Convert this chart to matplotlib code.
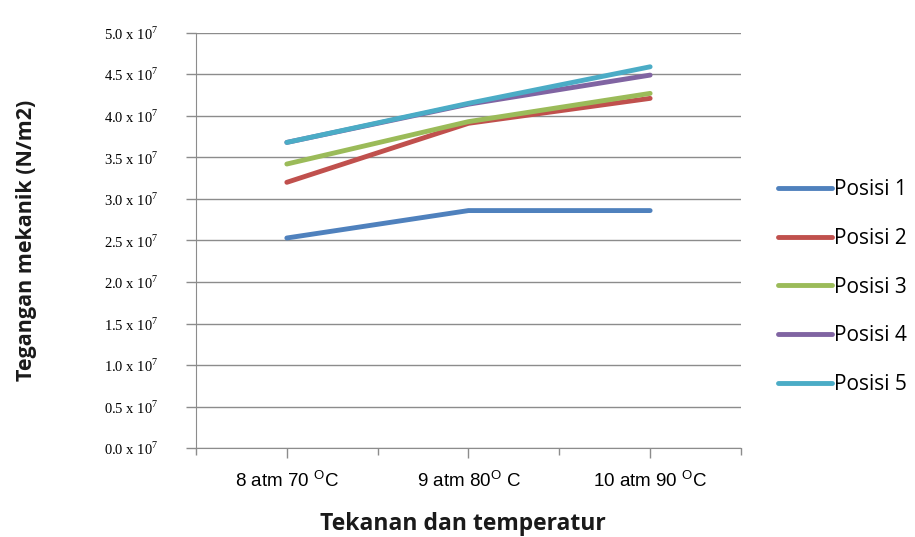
import matplotlib
matplotlib.use("Agg")
from matplotlib import pyplot as plt
from matplotlib.ticker import FixedLocator

# figure data
categories = ["8 atm 70 $^{\\mathsf{O}}$C", "9 atm 80$^{\\mathsf{O}}$ C", "10 atm 90 $^{\\mathsf{O}}$C"]
series_names = ["Posisi 1", "Posisi 2", "Posisi 3", "Posisi 4", "Posisi 5"]
posisi_1 = [2.53, 2.86, 2.86]
posisi_2 = [3.20, 3.91, 4.21]
posisi_3 = [3.42, 3.93, 4.27]
posisi_4 = [3.68, 4.14, 4.49]
posisi_5 = [3.68, 4.15, 4.59]
y_ticks = [0.0, 0.5, 1.0, 1.5, 2.0, 2.5, 3.0, 3.5, 4.0, 4.5, 5.0]

# figure params
colors = ["#4F81BD", "#C0504D", "#9BBB59", "#8064A2", "#4BACC6"]
grid_color = "#8c8c8c"

plt.rcParams['mathtext.fontset'] = 'custom'
plt.rcParams['mathtext.rm'] = 'Liberation Serif'
plt.rcParams['mathtext.sf'] = 'Liberation Sans'

# figure making
fig = plt.figure(figsize=(9.15, 5.37), dpi=100)
ax = fig.add_axes([0.2142, 0.1652, 0.5956, 0.7739])

x = list(range(len(categories)))
all_series = [posisi_1, posisi_2, posisi_3, posisi_4, posisi_5]
for name, vals, c in zip(series_names, all_series, colors):
    ax.plot(x, vals, color=c, lw=3.5, solid_capstyle='round', label=name)

ax.set_xlim(-0.5, 2.5)
ax.set_ylim(0, 5.0)

ax.set_yticks(y_ticks)
ax.set_yticklabels(["%.1f x 10$^{\\mathrm{7}}$" % v for v in y_ticks],
                   fontfamily="Liberation Serif", fontsize=10.5)
ax.set_xticks(x)
ax.set_xticklabels(categories, fontfamily="Liberation Sans", fontsize=13.5)
ax.xaxis.set_minor_locator(FixedLocator([-0.5, 0.5, 1.5, 2.5]))
ax.tick_params(axis='x', which='major', length=7, width=1, color=grid_color, pad=9)
ax.tick_params(axis='x', which='minor', length=5, width=1, color=grid_color)
ax.tick_params(axis='y', length=7, width=1, color=grid_color, pad=20)

ax.grid(True, axis='y', color=grid_color, lw=1)
ax.set_axisbelow(True)
ax.spines['right'].set_visible(False)
ax.spines['top'].set_visible(False)
ax.spines['left'].set_color(grid_color)
ax.spines['bottom'].set_color(grid_color)

ax.set_xlabel("Tekanan dan temperatur", fontfamily="Open Sans", fontsize=16.5,
              fontweight='bold', color="#1a1a1a")
ax.xaxis.set_label_coords(0.49, -0.153)
ax.set_ylabel("Tegangan mekanik (N/m2)", fontfamily="Open Sans", fontsize=15.5,
              fontweight='bold', color="#1a1a1a")
ax.yaxis.set_label_coords(-0.292, 0.5)

ax.legend(loc='center left', bbox_to_anchor=(0.850, 0.4655),
          bbox_transform=fig.transFigure, frameon=False,
          prop={'family': 'Open Sans', 'size': 15}, handlelength=2.6,
          handletextpad=0.1, labelspacing=1.33, borderpad=0, borderaxespad=0)

fig.savefig("out.png", dpi=100, facecolor="white")
